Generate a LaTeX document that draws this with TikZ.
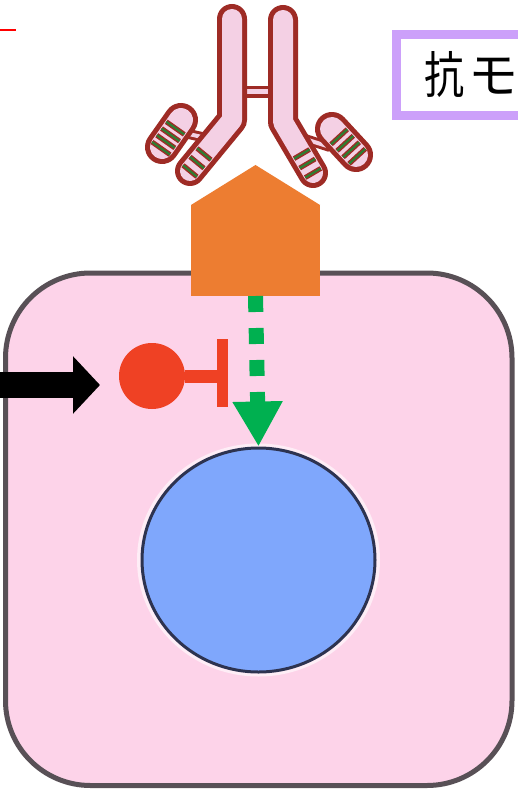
\documentclass[tikz,border=0pt]{standalone}
\usepackage{fontspec}
\newfontfamily\cjkfont{Noto Sans CJK JP}
\usetikzlibrary{arrows.meta,shapes.geometric,calc}

\definecolor{cellpink}{RGB}{253,211,233}
\definecolor{cellline}{RGB}{88,80,86}
\definecolor{nucblue}{RGB}{127,167,252}
\definecolor{nucline}{RGB}{45,51,80}
\definecolor{recorange}{RGB}{237,125,49}
\definecolor{pathgreen}{RGB}{0,176,80}
\definecolor{inhred}{RGB}{239,65,36}
\definecolor{abred}{RGB}{158,43,37}
\definecolor{abpink}{RGB}{244,208,228}
\definecolor{abgreen}{RGB}{46,125,50}
\definecolor{lavender}{RGB}{204,160,250}
\definecolor{markred}{RGB}{255,0,0}

\begin{document}
\begin{tikzpicture}[x=1pt,y=-1pt,
  cellbody/.style={draw=cellline, line width=5pt, fill=cellpink,
    rounded corners=85pt, minimum width=506.5pt, minimum height=512.5pt,
    inner sep=0pt, outer sep=0pt},
  nucleusbody/.style={ellipse, draw=nucline, line width=3pt, fill=nucblue,
    minimum width=233pt, minimum height=224pt, inner sep=0pt},
  receptorbody/.style={fill=recorange, minimum width=129pt,
    minimum height=91pt, inner sep=0pt, outer sep=0pt},
  pathway/.style={draw=pathgreen, line width=15pt,
    dash pattern=on 16pt off 16pt, -{Triangle[length=45pt,width=47pt]}},
  signal/.style={draw=black, line width=26pt,
    -{Triangle[length=27pt,width=56pt]}},
  inhibitor/.style={circle, fill=inhred, minimum size=66pt, inner sep=0pt},
  blockbar/.style={fill=inhred, minimum width=11pt, minimum height=68pt,
    inner sep=0pt, outer sep=0pt},
  stem/.style={draw=inhred, line width=13pt},
  heavychain/.style={draw=abred, line width=5pt, double=abpink,
    double distance=20pt, line cap=round, line join=round},
  lightchain/.style={draw=abred, line width=5pt, double=abpink,
    double distance=24pt, line cap=round, line join=round},
  linker/.style={draw=abred, line width=3pt, double=abpink,
    double distance=4pt},
  stripeback/.style={draw=abred, line width=5pt},
  stripefront/.style={draw=abgreen, line width=2.2pt},
  titlebox/.style={draw=lavender, line width=9pt, fill=white,
    minimum height=81pt, text width=170pt, align=left,
    inner xsep=28pt, inner ysep=0pt, outer sep=0pt},
]
\useasboundingbox (0,0) rectangle (518,794);
\fill[white] (0,0) rectangle (518,794);

% small red mark in the corner
\coordinate (markA) at (0,30);
\coordinate (markB) at (16,30);
\draw[markred, line width=2pt] (markA) -- (markB);

% the cell and its nucleus
\node[cellbody] (cell) at (258.75,529.25) {};
\draw[white!60!cellpink, line width=4pt] (258.5,560) ellipse [x radius=119.5, y radius=114.5];
\node[nucleusbody] (nucleus) at (258.5,560) {};

% receptor: a block with a pointed roof
\node[receptorbody] (receptor) at (255.5,250.5) {};
\fill[recorange] (receptor.north west) -- (255.5,165) -- (receptor.north east) -- cycle;

% signal from the receptor down to the nucleus
\draw[pathway] (receptor.south) -- (nucleus.north);

% inhibitor with its blocking bar
\node[inhibitor] (stop) at (152,376) {};
\node[blockbar] (block) at (222,373) {};
\draw[stem] (stop) -- (stop -| block.west);

% incoming arrow from the left
\coordinate (signalin) at (-2,385);
\coordinate (signalhit) at (100,385);
\draw[signal] (signalin) -- (signalhit);

% antibody
\coordinate (hLtop) at (232,19);
\coordinate (hLbend) at (232,120);
\coordinate (hLend) at (190,171);
\coordinate (hRtop) at (283,20);
\coordinate (hRbend) at (283,122);
\coordinate (hRend) at (313,173);
\coordinate (lLtop) at (181,120);
\coordinate (lLend) at (162,147);
\coordinate (lRtop) at (332,129);
\coordinate (lRend) at (356,155);

% hinge and chain links
\draw[linker, double distance=5pt, line width=3.5pt] (238,92) -- (277,92);
\draw[linker] (180,132) -- (215,140);
\draw[linker] (305,139) -- (330,147);

% heavy and light chains
\draw[heavychain] (hLtop) -- (hLbend) -- (hLend);
\draw[heavychain] (hRtop) -- (hRbend) -- (hRend);
\draw[lightchain] (lLtop) -- (lLend);
\draw[lightchain] (lRtop) -- (lRend);

% bands on the light chains
\foreach \t in {0.3,0.55,0.8,1.05} {
  \coordinate (p) at ($(lLtop)!\t!(lLend)$);
  \coordinate (pa) at ($(p)!11pt!90:(lLtop)$);
  \coordinate (pb) at ($(p)!11pt!-90:(lLtop)$);
  \draw[stripeback] (pa) -- (pb);
  \draw[stripefront] (pa) -- (pb);
  \coordinate (q) at ($(lRtop)!\t!(lRend)$);
  \coordinate (qa) at ($(q)!11pt!90:(lRtop)$);
  \coordinate (qb) at ($(q)!11pt!-90:(lRtop)$);
  \draw[stripeback] (qa) -- (qb);
  \draw[stripefront] (qa) -- (qb);
}

% bands on the heavy chains near their ends
\foreach \d in {22,11,0} {
  \coordinate (p) at ($(hLend)!\d pt!(hLbend)$);
  \coordinate (pa) at ($(p)!9pt!90:(hLbend)$);
  \coordinate (pb) at ($(p)!9pt!-90:(hLbend)$);
  \draw[stripeback] (pa) -- (pb);
  \draw[stripefront] (pa) -- (pb);
  \coordinate (q) at ($(hRend)!\d pt!(hRbend)$);
  \coordinate (qa) at ($(q)!9pt!90:(hRbend)$);
  \coordinate (qb) at ($(q)!9pt!-90:(hRbend)$);
  \draw[stripeback] (qa) -- (qb);
  \draw[stripefront] (qa) -- (qb);
}

% title box
\node[titlebox, anchor=west] (title) at (396.5,75)
  {\cjkfont\fontsize{50pt}{50pt}\selectfont\scalebox{0.8}[1]{抗}\kern4pt モ};
\end{tikzpicture}
\end{document}
